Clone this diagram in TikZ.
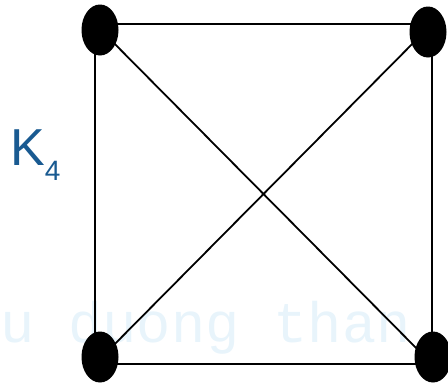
\documentclass[tikz,border=0pt]{standalone}
\usepackage{fontspec}
\usetikzlibrary{shapes.geometric}
\setmainfont{Liberation Sans}
\newfontfamily\wmfont{Liberation Mono}
\definecolor{kblue}{RGB}{25,90,145}
\definecolor{wmblue}{RGB}{232,244,251}
\begin{document}
\begin{tikzpicture}[x=1pt,y=-1pt,
  vertex/.style={ellipse,fill=black,inner sep=0pt,minimum width=37pt,minimum height=51pt},
  edge/.style={draw=black,line width=1.8pt}]
\useasboundingbox (0,0) rectangle (448,384);
\node[anchor=base west,inner sep=0pt,text=wmblue,font=\wmfont\fontsize{57}{57}\selectfont] (wm) at (0,342) {u duong than};
\coordinate (ctl) at (95,24);
\coordinate (ctr) at (432,24);
\coordinate (cbl) at (95,364);
\coordinate (cbr) at (432,364);
\draw[edge] (ctl) -- (ctr) -- (cbr) -- (cbl) -- cycle;
\draw[edge] (ctl) -- (cbr);
\draw[edge] (ctr) -- (cbl);
\node[vertex] (a) at (100,30) {};
\node[vertex] (b) at (428,32) {};
\node[vertex] (c) at (100,357) {};
\node[vertex] (d) at (433,357) {};
\node[anchor=base west,inner sep=0pt,text=kblue,font=\fontsize{52}{52}\selectfont] (k) at (10,165) {K\raisebox{-15pt}{\fontsize{28}{28}\selectfont 4}};
\end{tikzpicture}
\end{document}
